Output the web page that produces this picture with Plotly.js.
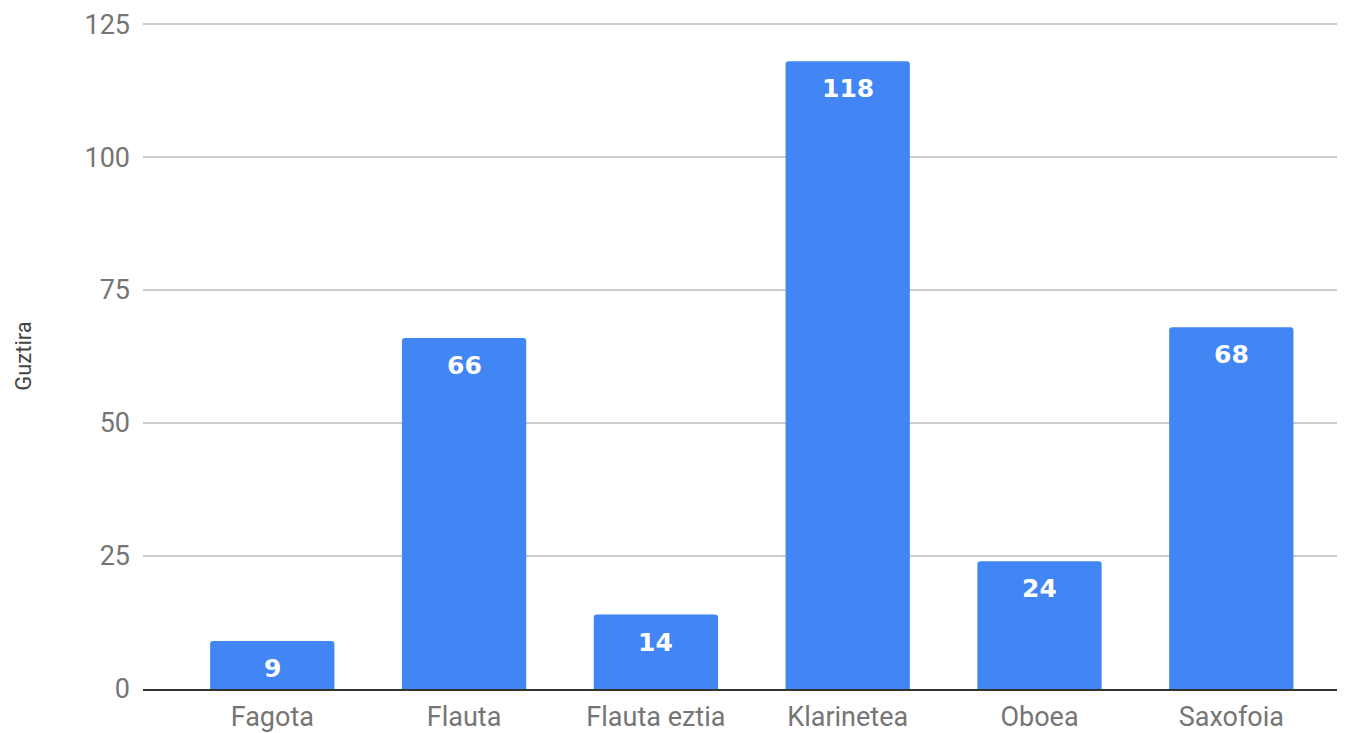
<!DOCTYPE html>
<html><head><meta charset="utf-8">
<script src="https://cdn.plot.ly/plotly-3.0.1.min.js"></script>
<style>html,body{margin:0;padding:0;background:#fff}#c{width:1351px;height:733px}</style>
</head><body><div id="c"></div>
<script>
const categories = ["Fagota", "Flauta", "Flauta eztia", "Klarinetea", "Oboea", "Saxofoia"];
const values = [9, 66, 14, 118, 24, 68];
const yTicks = [0, 25, 50, 75, 100, 125];

const trace = {
  type: 'bar', x: categories, y: values,
  marker: {color: '#4285F4', cornerradius: 3},
  width: 0.648, hoverinfo: 'x+y'
};
const annotations = categories.map((c, i) => ({
  x: c, y: values[i], xref: 'x', yref: 'y', text: String(values[i]),
  showarrow: false, yanchor: 'top', yshift: -11,
  font: {family: 'DejaVu Sans, sans-serif', size: 25, color: '#fff', weight: 'bold'}
}));
const layout = {
  width: 1351, height: 733,
  margin: {l: 143, r: 14, t: 23, b: 44},
  paper_bgcolor: '#fff', plot_bgcolor: '#fff',
  showlegend: false,
  xaxis: {
    type: 'category', range: [-0.674, 5.551], showgrid: false,
    showline: true, linecolor: '#333', linewidth: 2, ticks: '',
    tickfont: {family: 'Roboto, sans-serif', size: 27, color: '#757575'},
    ticklabelstandoff: 3, zeroline: false
  },
  yaxis: {
    range: [0, 125.2], tickvals: yTicks, ticktext: yTicks.map(String),
    showgrid: true, gridcolor: '#cccccc', gridwidth: 2, zeroline: false,
    showline: false, ticks: '',
    tickfont: {family: 'Roboto, sans-serif', size: 27, color: '#757575'},
    ticklabelstandoff: 12,
    title: {text: 'Guztira', standoff: 46, font: {family: 'Roboto, sans-serif', size: 22, color: '#444'}}
  },
  annotations: annotations
};
Plotly.newPlot('c', [trace], layout, {displayModeBar: false, staticPlot: true});
</script></body></html>
